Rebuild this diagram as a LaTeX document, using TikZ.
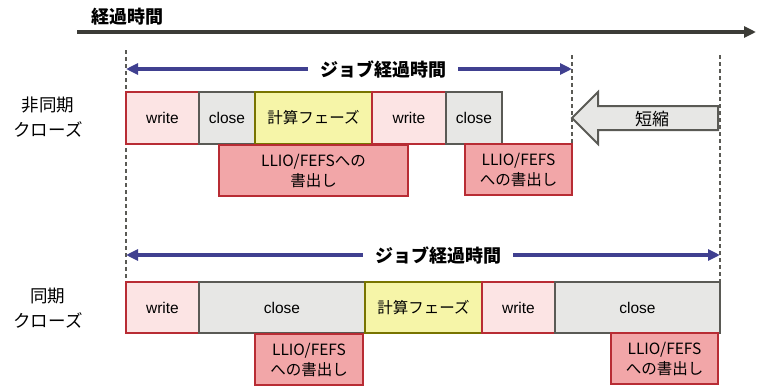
\documentclass[tikz,border=0pt]{standalone}
\usepackage{fontspec}
\setmainfont{Liberation Sans}
\newfontfamily\jp{Noto Sans CJK JP}
\usetikzlibrary{arrows.meta}
\definecolor{tline}{RGB}{60,60,55}
\definecolor{dgray}{RGB}{90,90,85}
\definecolor{navy}{RGB}{64,64,144}
\definecolor{wfill}{RGB}{252,228,228}
\definecolor{wborder}{RGB}{184,44,52}
\definecolor{cfill}{RGB}{231,231,229}
\definecolor{kfill}{RGB}{246,245,168}
\definecolor{kborder}{RGB}{120,116,0}
\definecolor{lfill}{RGB}{242,166,168}
\tikzset{
  boxbase/.style={rectangle, line width=2pt, inner sep=0pt, outer sep=0pt, text=black},
  wbox/.style={boxbase, draw=wborder, fill=wfill, font=\fontsize{15.5}{18}\selectfont},
  cbox/.style={boxbase, draw=dgray, fill=cfill, font=\fontsize{15.5}{18}\selectfont},
  kbox/.style={boxbase, draw=kborder, fill=kfill, font=\jp\fontsize{15.5}{18}\selectfont},
  lbox/.style={boxbase, draw=wborder, fill=lfill, align=center, font=\jp\fontsize{15.5}{20}\selectfont},
  dashline/.style={draw=dgray, line width=1.6pt, dash pattern=on 4pt off 3pt},
  jobarrow/.style={draw=navy, line width=4pt, {Triangle[length=12pt,width=11pt]}-{Triangle[length=12pt,width=11pt]}},
  joblabel/.style={fill=white, inner xsep=12pt, inner ysep=2pt, font=\jp\bfseries\fontsize{18}{20}\selectfont},
  sidelabel/.style={align=center, font=\jp\fontsize{17.5}{25}\selectfont},
}
\begin{document}
\begin{tikzpicture}[x=1pt,y=-1pt]
\useasboundingbox (0,0) rectangle (761,389);
% title and timeline
\node[font=\jp\bfseries\fontsize{18}{20}\selectfont] (title) at (127,17) {経過時間};
\coordinate (t0) at (77,32);
\coordinate (t1) at (756,32);
\draw[draw=tline, line width=3.5pt, -{Triangle[length=12pt,width=11pt]}] (t0) -- (t1);
% dashed guides
\coordinate (d1a) at (126,50);
\coordinate (d1b) at (126,282);
\coordinate (d2a) at (572,55);
\coordinate (d2b) at (572,196);
\coordinate (d3a) at (720,55);
\coordinate (d3b) at (720,282);
\draw[dashline] (d1a) -- (d1b);
\draw[dashline] (d2a) -- (d2b);
\draw[dashline] (d3a) -- (d3b);
% side labels
\node[sidelabel] (async) at (48,117) {非同期\\クローズ};
\node[sidelabel] (sync) at (48,308.5) {同期\\クローズ};
% upper job arrow
\coordinate (ja0) at (126,69);
\coordinate (ja1) at (572,69);
\draw[jobarrow] (ja0) -- (ja1);
\node[joblabel] (jl1) at (383,69) {ジョブ経過時間};
% upper row
\node[wbox, minimum width=73pt, minimum height=52pt] (w1) at (162.5,118) {write};
\node[cbox, minimum width=56pt, minimum height=52pt] (c1) at (227,118) {close};
\node[kbox, minimum width=117pt, minimum height=52pt] (k1) at (313.5,118) {計算フェーズ};
\node[wbox, minimum width=74pt, minimum height=52pt] (w2) at (409,118) {write};
\node[cbox, minimum width=56pt, minimum height=52pt] (c2) at (474,118) {close};
\node[lbox, minimum width=189pt, minimum height=51pt] (L1) at (313.5,170.5) {LLIO/FEFSへの\\書出し};
\node[lbox, minimum width=107pt, minimum height=51pt] (L2) at (518.5,169.5) {LLIO/FEFS\\への書出し};
% shortening arrow
\draw[draw=dgray, fill=cfill, line width=2pt, line join=miter]
  (572,118) -- (598,92) -- (598,106) -- (718,106) -- (718,130) -- (598,130) -- (598,144) -- cycle;
\node[font=\jp\fontsize{17}{20}\selectfont] (short) at (652,119) {短縮};
% lower job arrow
\coordinate (jb0) at (126,255);
\coordinate (jb1) at (720,255);
\draw[jobarrow] (jb0) -- (jb1);
\node[joblabel] (jl2) at (438,255) {ジョブ経過時間};
% lower row
\node[wbox, minimum width=73pt, minimum height=51pt] (w3) at (162.5,307.5) {write};
\node[cbox, minimum width=166pt, minimum height=51pt] (c3) at (282,307.5) {close};
\node[kbox, minimum width=117pt, minimum height=51pt] (k2) at (423.5,307.5) {計算フェーズ};
\node[wbox, minimum width=73pt, minimum height=51pt] (w4) at (518.5,307.5) {write};
\node[cbox, minimum width=165pt, minimum height=51pt] (c4) at (637.5,307.5) {close};
\node[lbox, minimum width=108pt, minimum height=51pt] (L3) at (309,359.5) {LLIO/FEFS\\への書出し};
\node[lbox, minimum width=107pt, minimum height=51pt] (L4) at (664.5,358.5) {LLIO/FEFS\\への書出し};
\end{tikzpicture}
\end{document}
